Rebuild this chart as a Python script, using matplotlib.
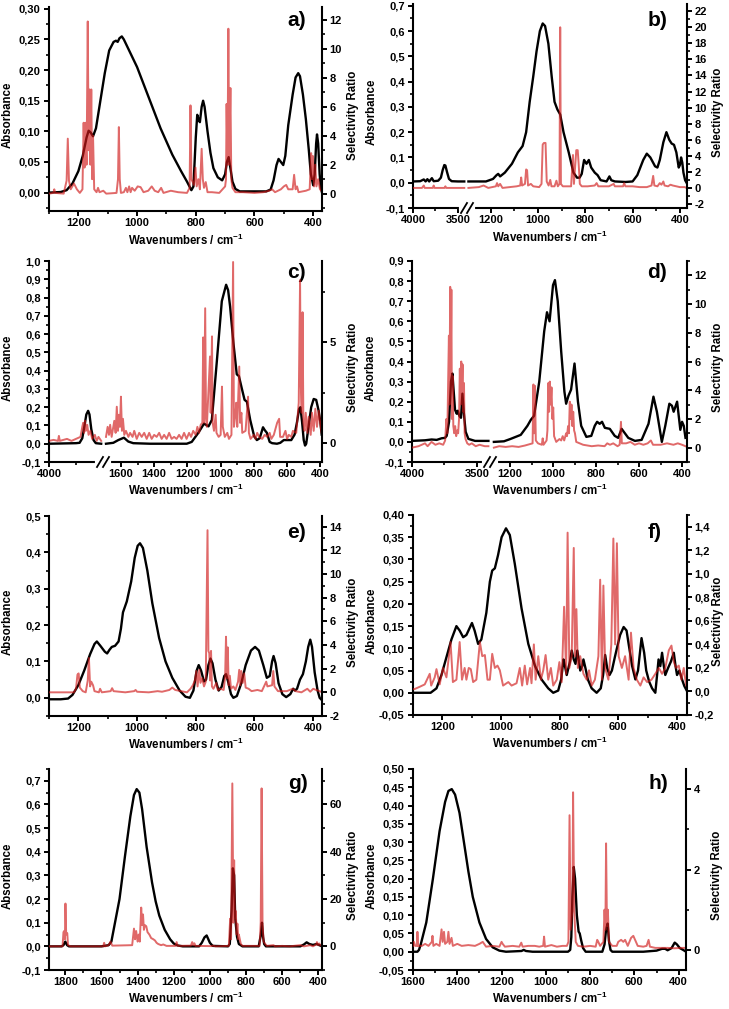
import numpy as np
import matplotlib
matplotlib.use('Agg')
import matplotlib.pyplot as plt
from matplotlib.ticker import FuncFormatter, MultipleLocator, FixedLocator

plt.rcParams['font.family'] = ['Liberation Sans', 'DejaVu Sans']
plt.rcParams['font.weight'] = 'bold'
plt.rcParams['axes.labelweight'] = 'bold'
plt.rcParams['mathtext.fontset'] = 'custom'
plt.rcParams['mathtext.rm'] = 'Liberation Sans:bold'
plt.rcParams['mathtext.bf'] = 'Liberation Sans:bold'
plt.rcParams['mathtext.default'] = 'bf'

# ---------------- data: (wavenumber, value) ----------------
a_abs = [(1300, 0.000), (1260, 0.001), (1240, 0.004), (1220, 0.015), (1200, 0.035), (1185, 0.060),
         (1172, 0.090), (1165, 0.101), (1158, 0.098), (1150, 0.092), (1140, 0.105), (1125, 0.150),
         (1110, 0.195), (1095, 0.232), (1080, 0.246), (1072, 0.248), (1066, 0.246), (1060, 0.252),
         (1052, 0.255), (1045, 0.250), (1030, 0.235), (1000, 0.205), (960, 0.155), (920, 0.105),
         (880, 0.062), (850, 0.035), (830, 0.018), (815, 0.004), (808, 0.010), (800, 0.090),
         (795, 0.127), (790, 0.118), (786, 0.115), (780, 0.140), (775, 0.150), (770, 0.140),
         (760, 0.100), (750, 0.065), (740, 0.040), (725, 0.025), (710, 0.020), (700, 0.030),
         (694, 0.050), (688, 0.058), (682, 0.040), (675, 0.018), (665, 0.006), (650, 0.002),
         (600, 0.002), (560, 0.002), (545, 0.005), (535, 0.020), (525, 0.045), (518, 0.055),
         (510, 0.050), (502, 0.045), (495, 0.060), (485, 0.110), (470, 0.160), (460, 0.188),
         (451, 0.195), (445, 0.190), (435, 0.160), (425, 0.120), (415, 0.070), (408, 0.030),
         (400, 0.012), (395, 0.030), (390, 0.080), (387, 0.095), (383, 0.080), (378, 0.030),
         (374, 0.008), (370, 0.000)]
a_sr = [(1300, 0.0), (1285, 0.05), (1282, 0.3), (1279, 0.05), (1250, 0.0), (1240, 0.9), (1236, 3.8),
        (1232, 0.9), (1226, 0.3), (1215, 0.7), (1205, 0.3), (1195, 0.05), (1186, 0.3), (1182, 4.9),
        (1179, 1.8), (1176, 4.9), (1172, 2.0), (1168, 11.9), (1165, 3.0), (1162, 7.2), (1159, 2.0),
        (1156, 7.2), (1153, 1.0), (1150, 4.0), (1146, 0.3), (1138, 0.1), (1133, 0.4), (1128, 0.1),
        (1115, 0.2), (1105, 0.0), (1070, 0.05), (1065, 1.0), (1062, 4.6), (1059, 1.0), (1055, 0.05),
        (1045, 0.1), (1038, 0.4), (1033, 0.1), (1027, 0.5), (1022, 0.1), (1017, 0.4), (1008, 0.2),
        (998, 0.5), (988, 0.45), (978, 0.1), (962, 0.2), (950, 0.5), (940, 0.2), (928, 0.1),
        (918, 0.4), (910, 0.05), (885, 0.2), (860, 0.1), (830, 0.05), (821, 0.4), (818, 6.1),
        (815, 1.0), (806, 0.6), (801, 1.8), (797, 0.5), (791, 1.0), (786, 0.3), (780, 3.1),
        (776, 1.0), (772, 0.4), (766, 0.8), (760, 0.1), (745, 0.1), (720, 0.05), (700, 0.5),
        (697, 1.0), (695, 6.2), (692, 2.0), (689, 11.4), (686, 2.0), (682, 7.3), (679, 1.0),
        (675, 0.4), (665, 0.1), (640, 0.1), (600, 0.05), (570, 0.1), (550, 0.2), (540, 0.3),
        (530, 0.1), (510, 0.3), (500, 0.5), (492, 0.6), (485, 0.3), (470, 0.3), (465, 1.3),
        (460, 0.3), (455, 0.5), (450, 0.1), (425, 0.2), (412, 0.3), (407, 2.8), (404, 1.0),
        (401, 2.6), (397, 0.5), (393, 2.0), (389, 0.5), (383, 1.0), (377, 0.3), (372, 0.2)]

b_abs = [(4000, 0.005), (3920, 0.006), (3880, 0.013), (3860, 0.005), (3840, 0.014), (3820, 0.005),
         (3790, 0.018), (3770, 0.006), (3720, 0.008), (3690, 0.020), (3670, 0.050), (3652, 0.070),
         (3640, 0.068), (3620, 0.040), (3600, 0.015), (3570, 0.006), (3500, 0.005), (3430, 0.005),
         (1294, 0.005), (1220, 0.005), (1190, 0.015), (1175, 0.030), (1168, 0.035), (1160, 0.025),
         (1140, 0.040), (1110, 0.075), (1085, 0.120), (1065, 0.145), (1050, 0.200), (1035, 0.320),
         (1020, 0.420), (1006, 0.520), (992, 0.600), (980, 0.630), (970, 0.620), (956, 0.550),
         (942, 0.420), (930, 0.320), (918, 0.290), (906, 0.270), (892, 0.200), (870, 0.120),
         (850, 0.040), (835, 0.020), (824, 0.020), (815, 0.035), (805, 0.090), (795, 0.075),
         (785, 0.090), (775, 0.060), (760, 0.040), (748, 0.030), (735, 0.010), (710, 0.005),
         (698, 0.025), (690, 0.010), (675, 0.005), (630, 0.003), (600, 0.005), (580, 0.030),
         (555, 0.090), (540, 0.115), (525, 0.100), (505, 0.065), (495, 0.060), (485, 0.090),
         (470, 0.160), (457, 0.200), (445, 0.170), (435, 0.155), (425, 0.150), (415, 0.120),
         (405, 0.060), (400, 0.070), (395, 0.100), (390, 0.080), (385, 0.040), (378, 0.010),
         (372, 0.000)]
b_sr = [(4000, 0.0), (3900, 0.0), (3880, 0.3), (3870, 0.0), (3780, 0.0), (3770, 0.3), (3760, 0.0),
        (3650, 0.0), (3640, 0.2), (3630, 0.0), (3430, 0.0),
        (1294, 0.0), (1250, 0.1), (1230, 0.3), (1210, 0.0), (1178, 0.2), (1173, 0.6), (1168, 0.2),
        (1160, 0.5), (1150, 0.0), (1120, 0.1), (1090, 0.2), (1075, 0.3), (1071, 1.3), (1067, 0.3),
        (1055, 0.5), (1050, 2.3), (1046, 2.2), (1042, 0.3), (1030, 0.5), (1020, 0.2), (995, 0.1),
        (985, 0.5), (980, 5.4), (975, 5.6), (968, 5.6), (963, 0.8), (955, 0.3), (948, 1.0),
        (943, 0.2), (930, 0.2), (922, 0.9), (916, 0.2), (909, 0.5), (906, 20.0), (903, 0.5),
        (895, 0.2), (860, 0.2), (852, 4.1), (848, 0.5), (842, 3.0), (838, 4.7), (832, 4.7),
        (828, 3.0), (823, 0.5), (815, 0.2), (790, 0.2), (760, 0.3), (752, 0.6), (745, 0.2),
        (700, 0.2), (680, 0.5), (675, 0.2), (640, 0.2), (636, 0.6), (630, 0.2), (600, 0.2),
        (570, 0.1), (540, 0.1), (520, 0.3), (513, 1.5), (508, 0.3), (495, 0.2), (485, 0.6),
        (478, 0.4), (470, 0.8), (465, 0.3), (450, 0.2), (440, 0.4), (430, 0.3), (415, 0.2),
        (400, 0.1), (380, 0.1), (372, 0.0)]

c_abs = [(4000, 0.0), (3800, 0.002), (3700, 0.003), (3660, 0.005), (3630, 0.03), (3605, 0.10),
         (3585, 0.16), (3565, 0.18), (3550, 0.16), (3530, 0.08), (3505, 0.02), (3480, 0.003),
         (3420, 0.0),
         (1690, 0.0), (1646, 0.005), (1616, 0.02), (1582, 0.033), (1556, 0.012), (1526, 0.003),
         (1425, 0.0), (1325, 0.0), (1204, 0.0), (1174, 0.01), (1134, 0.06), (1100, 0.11),
         (1073, 0.095), (1053, 0.13), (1023, 0.45), (993, 0.78), (967, 0.87), (955, 0.84),
         (943, 0.75), (923, 0.55), (903, 0.38), (890, 0.37), (872, 0.30), (856, 0.24), (842, 0.23),
         (822, 0.13), (798, 0.04), (782, 0.02), (765, 0.03), (745, 0.09), (735, 0.075),
         (722, 0.06), (705, 0.01), (690, 0.003), (661, 0.0), (641, 0.005), (620, 0.02),
         (601, 0.02), (575, 0.02), (555, 0.05), (540, 0.12), (528, 0.19), (520, 0.20),
         (510, 0.12), (500, 0.02), (492, -0.01), (485, 0.0), (470, 0.10), (455, 0.20),
         (440, 0.245), (425, 0.24), (410, 0.18), (400, 0.12), (392, 0.05)]
c_sr = [(4000, 0.1), (3950, 0.15), (3900, 0.1), (3890, 0.35), (3880, 0.1), (3800, 0.2), (3750, 0.1),
        (3700, 0.2), (3650, 0.3), (3630, 0.8), (3620, 1.0), (3610, 0.5), (3600, 1.1), (3590, 0.6),
        (3575, 0.9), (3560, 0.4), (3540, 0.6), (3520, 0.2), (3490, 0.4), (3470, 0.1), (3450, 0.3),
        (3420, 0.1),
        (1690, 0.3), (1680, 0.8), (1672, 0.4), (1665, 0.9), (1656, 0.3), (1648, 0.7), (1640, 1.1),
        (1632, 0.5), (1625, 1.8), (1618, 0.6), (1612, 1.4), (1606, 0.8), (1600, 2.3), (1594, 0.6),
        (1588, 1.2), (1580, 0.4), (1570, 0.6), (1555, 0.3), (1545, 0.5), (1530, 0.3), (1520, 0.6),
        (1505, 0.2), (1490, 0.5), (1475, 0.3), (1460, 0.5), (1445, 0.2), (1430, 0.5), (1415, 0.2),
        (1400, 0.4), (1385, 0.3), (1370, 0.5), (1355, 0.2), (1340, 0.4), (1325, 0.2), (1310, 0.5),
        (1295, 0.2), (1280, 0.3), (1265, 0.2), (1250, 0.4), (1235, 0.2), (1220, 0.5), (1205, 0.2),
        (1190, 0.5), (1178, 0.3), (1165, 0.6), (1150, 0.4), (1140, 0.8), (1130, 0.5), (1120, 0.9),
        (1110, 1.0), (1105, 5.25), (1100, 1.0), (1093, 6.7), (1088, 1.2), (1083, 0.8),
        (1064, 4.3), (1060, 1.5), (1052, 5.3), (1048, 1.0), (1040, 0.6), (1030, 1.4), (1025, 0.5),
        (1012, 0.3), (1000, 0.4), (992, 2.8), (987, 0.8), (975, 0.3), (960, 0.5), (950, 0.2),
        (935, 0.4), (925, 9.0), (920, 0.8), (910, 1.5), (906, 2.0), (900, 0.8), (888, 3.8),
        (883, 1.0), (875, 1.5), (870, 0.5), (850, 0.6), (835, 2.3), (830, 0.5), (820, 0.2),
        (800, 0.4), (790, 0.2), (780, 0.5), (768, 0.3), (750, 0.2), (735, 0.4), (720, 0.3),
        (705, 0.5), (695, 0.2), (680, 0.4), (660, 1.0), (648, 1.2), (642, 0.3), (625, 0.3),
        (610, 0.6), (600, 0.2), (590, 0.4), (575, 0.3), (565, 0.6), (545, 0.5), (530, 2.0),
        (522, 8.1), (518, 3.0), (512, 1.5), (507, 6.5), (502, 1.0), (495, 0.6), (488, 1.5),
        (478, 0.5), (470, 1.3), (458, 0.4), (450, 1.5), (440, 0.6), (430, 1.7), (420, 0.8),
        (410, 1.6), (398, 0.8), (392, 0.5)]

d_abs = [(4000, 0.005), (3900, 0.008), (3849, 0.012), (3810, 0.010), (3772, 0.018), (3746, 0.020),
         (3733, 0.030), (3715, 0.100), (3700, 0.300), (3689, 0.340), (3679, 0.250), (3669, 0.160),
         (3656, 0.140), (3648, 0.155), (3636, 0.130), (3623, 0.120), (3612, 0.240), (3602, 0.150),
         (3587, 0.050), (3566, 0.015), (3515, 0.005), (3412, 0.005),
         (1275, 0.000), (1228, 0.003), (1197, 0.015), (1150, 0.035), (1119, 0.080), (1103, 0.110),
         (1088, 0.130), (1064, 0.300), (1041, 0.550), (1028, 0.645), (1016, 0.600), (1000, 0.780),
         (991, 0.805), (978, 0.700), (962, 0.450), (947, 0.250), (939, 0.190), (928, 0.230),
         (916, 0.260), (900, 0.390), (884, 0.200), (869, 0.080), (845, 0.025), (822, 0.030),
         (806, 0.080), (795, 0.100), (783, 0.090), (772, 0.100), (759, 0.070), (736, 0.065),
         (713, 0.030), (697, 0.020), (681, 0.065), (650, 0.020), (619, 0.005), (588, 0.010),
         (556, 0.090), (533, 0.225), (517, 0.150), (494, 0.000), (478, 0.080), (459, 0.190),
         (447, 0.180), (439, 0.150), (423, 0.200), (408, 0.060), (400, 0.100), (392, 0.080),
         (384, 0.020)]
d_sr = [(4000, 0.0), (3950, 0.1), (3900, 0.3), (3880, 0.1), (3850, 0.4), (3820, 0.2), (3790, 0.3),
        (3760, 0.2), (3745, 0.5), (3735, 2.0), (3728, 1.0), (3722, 4.5), (3716, 7.8), (3712, 3.0),
        (3706, 11.2), (3702, 5.0), (3697, 11.0), (3693, 2.0), (3688, 5.0), (3682, 1.5),
        (3675, 1.0), (3668, 1.5), (3660, 0.8), (3652, 1.2), (3645, 1.0), (3638, 2.0), (3632, 5.5),
        (3626, 3.0), (3621, 6.0), (3616, 4.0), (3611, 5.8), (3606, 2.5), (3600, 4.5), (3595, 1.0),
        (3588, 0.6), (3575, 0.3), (3560, 0.2), (3540, 0.3), (3510, 0.1), (3480, 0.2), (3440, 0.1),
        (3412, 0.1),
        (1275, 0.0), (1250, 0.1), (1220, 0.05), (1190, 0.1), (1160, 0.05), (1130, 0.15),
        (1095, 0.3), (1091, 4.4), (1088, 1.0), (1084, 4.3), (1080, 0.5), (1070, 0.3), (1052, 0.2),
        (1048, 0.65), (1044, 0.2), (1030, 0.5), (1026, 1.2), (1022, 4.5), (1018, 2.5), (1015, 4.6),
        (1011, 3.0), (1007, 4.2), (1003, 2.0), (999, 2.8), (995, 0.8), (985, 0.4), (970, 0.6),
        (962, 0.5), (955, 0.8), (948, 0.5), (939, 1.0), (935, 0.8), (930, 1.5), (926, 1.0),
        (922, 3.2), (918, 2.0), (914, 3.0), (910, 1.5), (906, 2.5), (902, 1.2), (898, 1.0),
        (892, 0.4), (860, 0.2), (820, 0.1), (790, 0.15), (760, 0.1), (748, 0.3), (735, 0.2),
        (720, 0.3), (700, 0.1), (690, 0.2), (684, 1.8), (680, 0.3), (660, 0.3), (640, 0.4),
        (620, 0.2), (600, 0.3), (580, 0.2), (560, 0.3), (545, 0.5), (535, 0.2), (500, 0.2),
        (470, 0.3), (440, 0.2), (420, 0.3), (400, 0.2), (384, 0.1)]

e_abs = [(1300, -0.004), (1260, -0.004), (1235, -0.002), (1220, 0.008), (1200, 0.035), (1180, 0.075),
         (1160, 0.120), (1145, 0.148), (1137, 0.155), (1125, 0.143), (1110, 0.127), (1102, 0.122),
         (1094, 0.132), (1086, 0.140), (1075, 0.143), (1063, 0.155), (1055, 0.190), (1048, 0.235),
         (1035, 0.265), (1020, 0.320), (1008, 0.385), (998, 0.418), (990, 0.425), (980, 0.412),
         (965, 0.350), (948, 0.260), (925, 0.165), (903, 0.100), (880, 0.055), (855, 0.020),
         (835, 0.003), (820, 0.000), (808, 0.020), (797, 0.075), (790, 0.090), (782, 0.075),
         (772, 0.045), (765, 0.050), (757, 0.090), (750, 0.108), (743, 0.095), (733, 0.050),
         (722, 0.020), (712, 0.030), (703, 0.060), (697, 0.065), (690, 0.045), (680, 0.010),
         (672, 0.000), (660, 0.005), (645, 0.040), (630, 0.090), (612, 0.130), (598, 0.140),
         (585, 0.130), (570, 0.090), (558, 0.055), (548, 0.060), (540, 0.100), (535, 0.115),
         (528, 0.095), (518, 0.040), (505, 0.010), (492, 0.002), (478, 0.010), (468, 0.025),
         (462, 0.020), (455, 0.025), (445, 0.050), (435, 0.065), (425, 0.100), (417, 0.140),
         (410, 0.160), (404, 0.140), (395, 0.070), (385, 0.020), (378, 0.000), (372, -0.005)]
e_sr = [(1300, 0.0), (1250, 0.0), (1215, 0.0), (1208, 0.3), (1203, 1.5), (1199, 1.6), (1195, 0.4),
        (1185, 0.1), (1175, 0.0), (1168, 1.0), (1164, 2.9), (1160, 0.5), (1156, 0.9), (1150, 0.6),
        (1145, 0.1), (1130, 0.0), (1126, 0.3), (1120, 0.0), (1090, 0.1), (1085, 0.35), (1080, 0.1),
        (1040, 0.0), (1010, 0.1), (1005, 0.2), (1000, 0.05), (960, 0.0), (930, 0.1), (915, 0.05),
        (890, 0.2), (880, 0.4), (870, 0.2), (850, 0.1), (830, 0.0), (818, 0.3), (810, 0.6),
        (803, 1.0), (798, 1.8), (794, 0.5), (788, 1.9), (784, 0.8), (778, 1.2), (772, 0.5),
        (766, 0.9), (760, 13.7), (757, 3.5), (754, 3.3), (751, 1.0), (748, 3.5), (745, 0.5),
        (740, 0.3), (730, 0.8), (725, 0.2), (715, 0.3), (705, 0.2), (700, 1.3), (697, 4.7),
        (694, 1.2), (691, 3.8), (688, 0.6), (684, 1.4), (680, 0.3), (672, 0.5), (665, 0.2),
        (656, 0.9), (652, 1.9), (648, 0.6), (645, 1.8), (640, 0.8), (635, 1.6), (630, 0.4),
        (620, 0.3), (610, 0.1), (590, 0.2), (575, 0.1), (560, 0.9), (556, 0.5), (540, 0.6),
        (536, 1.8), (532, 0.5), (520, 0.1), (490, 0.1), (470, 0.3), (460, 0.1), (440, 0.0),
        (420, 0.3), (410, 0.05), (400, 0.3), (390, 0.2), (378, 0.1), (370, 0.0)]

f_abs = [(1300, 0.0), (1240, 0.0), (1220, 0.01), (1203, 0.04), (1186, 0.08), (1169, 0.12),
         (1152, 0.15), (1141, 0.14), (1129, 0.125), (1118, 0.13), (1099, 0.157), (1090, 0.14),
         (1078, 0.11), (1067, 0.12), (1050, 0.18), (1038, 0.25), (1030, 0.275), (1021, 0.28),
         (1010, 0.31), (998, 0.35), (983, 0.37), (970, 0.355), (953, 0.29), (930, 0.19),
         (907, 0.11), (884, 0.06), (862, 0.03), (839, 0.01), (822, 0.0), (805, 0.005), (795, 0.03),
         (787, 0.075), (782, 0.06), (776, 0.04), (765, 0.07), (759, 0.095), (752, 0.075),
         (746, 0.065), (740, 0.095), (734, 0.07), (730, 0.05), (723, 0.06), (719, 0.075),
         (712, 0.055), (704, 0.03), (691, 0.01), (674, 0.0), (660, 0.01), (652, 0.04),
         (645, 0.085), (638, 0.055), (630, 0.04), (622, 0.05), (612, 0.08), (605, 0.10),
         (594, 0.13), (582, 0.148), (572, 0.14), (565, 0.11), (553, 0.06), (542, 0.03),
         (533, 0.05), (521, 0.123), (512, 0.09), (505, 0.05), (495, 0.025), (485, 0.01),
         (474, 0.0), (468, 0.04), (463, 0.075), (457, 0.06), (451, 0.09), (445, 0.06), (440, 0.04),
         (431, 0.055), (421, 0.07), (411, 0.09), (405, 0.06), (400, 0.04), (392, 0.05),
         (383, 0.03), (375, 0.015), (367, 0.005)]
f_sr = [(1300, 0.02), (1295, 0.02), (1277, 0.04), (1260, 0.06), (1243, 0.15), (1238, 0.05),
        (1226, 0.12), (1220, 0.19), (1209, 0.06), (1198, 0.2), (1186, 0.12), (1172, 0.42),
        (1164, 0.08), (1152, 0.1), (1141, 0.42), (1133, 0.1), (1124, 0.2), (1118, 0.1), (1110, 0.2),
        (1103, 0.19), (1095, 0.08), (1084, 0.1), (1072, 0.42), (1064, 0.3), (1055, 0.31),
        (1046, 0.1), (1038, 0.1), (1030, 0.32), (1021, 0.2), (1012, 0.22), (1004, 0.18),
        (993, 0.05), (975, 0.08), (964, 0.05), (947, 0.07), (936, 0.2), (928, 0.05), (919, 0.22),
        (911, 0.06), (901, 0.2), (896, 0.07), (888, 0.4), (882, 0.1), (873, 0.3), (864, 0.1),
        (856, 0.18), (848, 0.31), (839, 0.1), (830, 0.2), (822, 0.05), (810, 0.1), (801, 0.25),
        (793, 0.08), (785, 0.72), (778, 0.15), (773, 1.35), (767, 0.2), (759, 0.3), (752, 1.22),
        (748, 0.3), (743, 0.7), (738, 0.2), (730, 0.3), (719, 0.15), (708, 0.1), (700, 0.18),
        (691, 0.05), (680, 0.1), (668, 0.3), (662, 0.95), (656, 0.1), (651, 0.9), (645, 0.2),
        (634, 0.1), (624, 0.4), (617, 1.3), (611, 0.4), (605, 1.26), (599, 0.3), (588, 0.2),
        (577, 0.3), (565, 0.1), (557, 0.5), (548, 0.2), (537, 0.1), (525, 0.05), (514, 0.12),
        (502, 0.08), (487, 0.1), (474, 0.15), (462, 0.2), (451, 0.15), (440, 0.2), (428, 0.35),
        (419, 0.39), (411, 0.25), (403, 0.2), (394, 0.22), (385, 0.1), (377, 0.2), (369, 0.05)]

g_abs = [(1890, 0.0), (1820, 0.0), (1810, 0.005), (1800, 0.02), (1790, 0.005), (1780, 0.0),
         (1600, 0.0), (1560, 0.005), (1545, 0.02), (1530, 0.08), (1500, 0.2), (1470, 0.38),
         (1440, 0.55), (1420, 0.64), (1405, 0.665), (1390, 0.65), (1375, 0.58), (1350, 0.42),
         (1320, 0.27), (1300, 0.19), (1280, 0.13), (1250, 0.07), (1220, 0.03), (1200, 0.012),
         (1180, 0.004), (1150, 0.0), (1060, 0.0), (1045, 0.015), (1030, 0.038), (1018, 0.046),
         (1000, 0.015), (985, 0.002), (900, 0.0), (890, 0.01), (880, 0.15), (873, 0.33),
         (866, 0.30), (860, 0.12), (850, 0.04), (840, 0.01), (820, 0.0), (730, 0.0), (718, 0.05),
         (712, 0.1), (706, 0.04), (700, 0.01), (690, 0.0), (500, 0.0), (480, 0.008), (465, 0.017),
         (450, 0.01), (430, 0.006), (410, 0.01), (395, 0.005), (380, 0.0)]
g_sr = [(1890, 0.0), (1815, 0.0), (1810, 6.0), (1806, 6.5), (1802, 3.0), (1799, 18.1), (1795, 5.0),
        (1789, 5.6), (1785, 0.5), (1770, 0.0), (1590, 0.0), (1585, 1.5), (1580, 0.0), (1560, 0.5),
        (1550, 2.0), (1540, 0.3), (1430, 0.5), (1420, 7.5), (1414, 3.0), (1408, 6.5), (1400, 2.0),
        (1394, 5.0), (1388, 2.0), (1380, 16.4), (1375, 9.0), (1370, 13.5), (1365, 7.0),
        (1360, 9.0), (1352, 8.5), (1345, 6.0), (1335, 5.0), (1325, 3.5), (1313, 3.0),
        (1304, 2.5), (1295, 1.5), (1286, 1.0), (1270, 0.5), (1258, 0.8), (1240, 0.2),
        (1190, 0.2), (1184, 1.8), (1178, 0.2), (1105, 0.3), (1098, 1.8), (1092, 0.5), (1086, 1.3),
        (1080, 0.2), (990, 0.1), (981, 0.3), (970, 0.0), (895, 0.2), (888, 11.7), (883, 3.0),
        (876, 68.9), (870, 10.0), (866, 36.4), (862, 12.0), (857, 15.0), (852, 5.0), (848, 9.6),
        (843, 3.0), (840, 5.0), (829, 1.0), (820, 0.2), (725, 0.2), (719, 10.0), (714, 66.8),
        (709, 10.0), (703, 2.0), (694, 1.0), (685, 0.2), (648, 0.5), (640, 0.0), (600, 0.2),
        (560, 0.0), (500, 0.5), (480, 0.0), (445, 0.5), (430, 0.0), (412, 0.8), (408, 1.8),
        (402, 0.5), (395, 1.2), (390, 0.5), (380, 0.2)]

h_abs = [(1600, 0.0), (1580, 0.0), (1573, 0.005), (1565, 0.02), (1540, 0.08), (1510, 0.2),
         (1480, 0.33), (1455, 0.41), (1440, 0.44), (1425, 0.445), (1410, 0.43), (1390, 0.38),
         (1370, 0.30), (1350, 0.22), (1330, 0.15), (1300, 0.08), (1270, 0.035), (1240, 0.012),
         (1210, 0.003), (1180, 0.0), (1110, 0.002), (1100, 0.005), (1090, 0.002), (1060, 0.0),
         (900, 0.0), (890, 0.005), (885, 0.04), (880, 0.15), (874, 0.232), (868, 0.20),
         (860, 0.10), (852, 0.055), (847, 0.05), (840, 0.03), (832, 0.01), (820, 0.0), (745, 0.0),
         (735, 0.02), (728, 0.06), (721, 0.077), (715, 0.03), (708, 0.005), (700, 0.0), (560, 0.0),
         (500, 0.003), (475, 0.008), (461, 0.008), (450, 0.004), (432, 0.01), (418, 0.025),
         (408, 0.02), (395, 0.01), (380, 0.005), (367, 0.0)]
h_sr = [(1600, 0.1), (1596, 0.2), (1590, 0.1), (1582, 0.1), (1580, 0.45), (1577, 0.1), (1560, 0.1),
        (1545, 0.15), (1530, 0.1), (1515, 0.2), (1512, 0.35), (1508, 0.1), (1495, 0.15),
        (1480, 0.1), (1471, 0.51), (1466, 0.2), (1460, 0.45), (1455, 0.15), (1445, 0.2),
        (1440, 0.45), (1435, 0.15), (1426, 0.3), (1420, 0.1), (1400, 0.15), (1380, 0.1),
        (1350, 0.12), (1320, 0.1), (1300, 0.15), (1285, 0.2), (1270, 0.08), (1240, 0.1),
        (1210, 0.08), (1200, 0.2), (1195, 0.15), (1185, 0.08), (1150, 0.1), (1120, 0.08),
        (1111, 0.18), (1105, 0.08), (1080, 0.1), (1050, 0.1), (1030, 0.08), (1012, 0.1),
        (1008, 0.33), (1004, 0.08), (975, 0.12), (950, 0.08), (925, 0.1), (905, 0.1), (898, 0.2),
        (893, 3.35), (888, 0.5), (880, 1.0), (877, 3.92), (872, 1.0), (865, 0.2), (855, 0.1),
        (830, 0.08), (800, 0.1), (775, 0.08), (768, 0.25), (763, 0.2), (755, 0.1), (740, 0.2),
        (735, 1.0), (731, 0.5), (728, 2.65), (724, 0.6), (720, 1.0), (715, 0.2), (700, 0.1),
        (680, 0.1), (673, 0.2), (660, 0.25), (650, 0.2), (642, 0.25), (630, 0.1), (615, 0.3),
        (605, 0.35), (597, 0.25), (585, 0.1), (560, 0.08), (545, 0.1), (536, 0.25), (530, 0.08),
        (506, 0.05), (480, 0.05), (450, 0.05), (420, 0.04), (385, 0.05), (367, 0.05)]

W, H = 729, 1009
fig = plt.figure(figsize=(W / 100, H / 100), dpi=100)

RED = '#d01818'


def comma(dec):
    return FuncFormatter(lambda v, p: f'{v:.{dec}f}'.replace('.', ','))


def panel(box, tag, abs_pts, sr_pts, xlim, ylim, ystep, ydec, y2lim, y2step, y2dec,
          tagpos, brk=None, xmaj=None, xmin=None):
    L, T, R, B = box
    ax = fig.add_axes([L / W, 1 - B / H, (R - L) / W, (B - T) / H])
    if brk:
        lo_left, hi_right, frac = brk
        xp = [xlim[1], hi_right, lo_left, xlim[0]]
        yp = [0, 1 - frac, 1 - frac + 1e-4, 1]
        ax.set_xscale('function', functions=(lambda x: np.interp(x, xp, yp),
                                             lambda y: np.interp(y, yp, xp)))
    ax2 = ax.twinx()

    ax_x, ax_y = np.array(abs_pts).T
    sr_x, sr_y = np.array(sr_pts).T
    if brk:
        for m in (ax_x >= brk[0], ax_x <= brk[1]):
            ax.plot(ax_x[m], ax_y[m], color='black', lw=1.7, zorder=3)
        for m in (sr_x >= brk[0], sr_x <= brk[1]):
            ax2.plot(sr_x[m], sr_y[m], color=RED, lw=1.4, alpha=0.65)
    else:
        ax.plot(ax_x, ax_y, color='black', lw=1.7, zorder=3)
        ax2.plot(sr_x, sr_y, color=RED, lw=1.4, alpha=0.65)

    ax.set_xlim(*xlim)
    ax.set_ylim(*ylim)
    ax2.set_ylim(*y2lim)

    if brk:
        ax.xaxis.set_major_locator(FixedLocator(xmaj))
        ax.xaxis.set_minor_locator(FixedLocator(xmin))
    else:
        ax.xaxis.set_major_locator(MultipleLocator(200))
        ax.xaxis.set_minor_locator(MultipleLocator(100))
    ax.xaxis.set_major_formatter(FuncFormatter(lambda v, p: f'{v:.0f}'))
    ax.yaxis.set_major_locator(MultipleLocator(ystep))
    ax.yaxis.set_minor_locator(MultipleLocator(ystep / 2))
    ax.yaxis.set_major_formatter(comma(ydec))
    ax2.yaxis.set_major_locator(MultipleLocator(y2step))
    ax2.yaxis.set_minor_locator(MultipleLocator(y2step / 2))
    ax2.yaxis.set_major_formatter(comma(y2dec))

    for a in (ax, ax2):
        for s in a.spines.values():
            s.set_linewidth(1.5)
        a.spines['top'].set_visible(False)
        a.tick_params(which='major', direction='out', length=3.5, width=1.4, labelsize=8)
        a.tick_params(which='minor', direction='out', length=2, width=1.2)
    ax.spines['right'].set_visible(False)
    ax2.spines['left'].set_visible(False)
    ax2.spines['bottom'].set_visible(False)
    ax.tick_params(axis='x', pad=1.5)
    ax.tick_params(axis='y', pad=2.5)
    ax2.tick_params(axis='y', pad=2)

    ax.set_xlabel('Wavenumbers / cm$^{-1}$', fontsize=8.3)
    ax.set_ylabel('Absorbance', fontsize=8.3)
    ax2.set_ylabel('Selectivity Ratio', fontsize=8.3)
    ax.xaxis.set_label_coords(0.5, -0.105)
    ax.yaxis.set_label_coords(-0.13, 0.47)
    ax2.yaxis.set_label_coords(1.09, 0.47)

    ax.text(tagpos[0], tagpos[1], tag, transform=ax.transAxes, fontsize=15,
            fontweight='bold', ha='center', va='center')

    if brk:
        xb = brk[2]
        px = 1 / (R - L)
        py = 1 / (B - T)
        ax.plot([xb - 6 * px, xb + 6 * px], [0, 0], color='white', lw=3,
                transform=ax.transAxes, clip_on=False, zorder=10)
        for off in (-3, 3):
            ax.plot([xb + (off - 3) * px, xb + (off + 3) * px], [-5 * py, 5 * py],
                    color='black', lw=1.3, transform=ax.transAxes, clip_on=False, zorder=11)
    return ax, ax2


panel((49, 7, 322, 211), 'a)', a_abs, a_sr, (1300, 370), (-0.03, 0.303), 0.05, 2,
      (-1.2, 12.9), 2, 0, (0.908, 0.936))
panel((413, 4, 687, 208), 'b)', b_abs, b_sr, (4000, 370), (-0.1, 0.707), 0.1, 1,
      (-2.5, 22.9), 2, 0, (0.894, 0.92), brk=(3400, 1300, 54 / 274),
      xmaj=[4000, 3500, 1200, 1000, 800, 600, 400], xmin=[3750, 1100, 900, 700, 500])
panel((49, 261, 322, 462), 'c)', c_abs, c_sr, (4000, 390), (-0.1, 1.0), 0.1, 1,
      (-0.95, 9.05), 5, 0, (0.908, 0.945), brk=(3400, 1708, 54 / 273),
      xmaj=[4000, 1600, 1400, 1200, 1000, 800, 600, 400],
      xmin=[3700, 1500, 1300, 1100, 900, 700, 500])
panel((412, 261, 687, 462), 'd)', d_abs, d_sr, (4000, 377), (-0.1, 0.9), 0.1, 1,
      (-1.0, 13.0), 2, 0, (0.891, 0.945), brk=(3400, 1293, 78 / 275),
      xmaj=[4000, 3500, 1200, 1000, 800, 600, 400], xmin=[3750, 1100, 900, 700, 500])
panel((49, 516, 322, 716), 'e)', e_abs, e_sr, (1300, 370), (-0.05, 0.5), 0.1, 1,
      (-2.0, 14.9), 2, 0, (0.905, 0.92))
panel((413, 515, 687, 715), 'f)', f_abs, f_sr, (1300, 366), (-0.05, 0.40), 0.05, 2,
      (-0.2, 1.5), 0.2, 1, (0.883, 0.915))
panel((49, 769, 322, 970), 'g)', g_abs, g_sr, (1890, 380), (-0.1, 0.75), 0.1, 1,
      (-10, 75), 20, 0, (0.912, 0.93))
panel((413, 769, 686, 970), 'h)', h_abs, h_sr, (1600, 367), (-0.05, 0.5), 0.05, 2,
      (-0.5, 4.5), 2, 0, (0.897, 0.93))

fig.savefig('out.png', dpi=100)
